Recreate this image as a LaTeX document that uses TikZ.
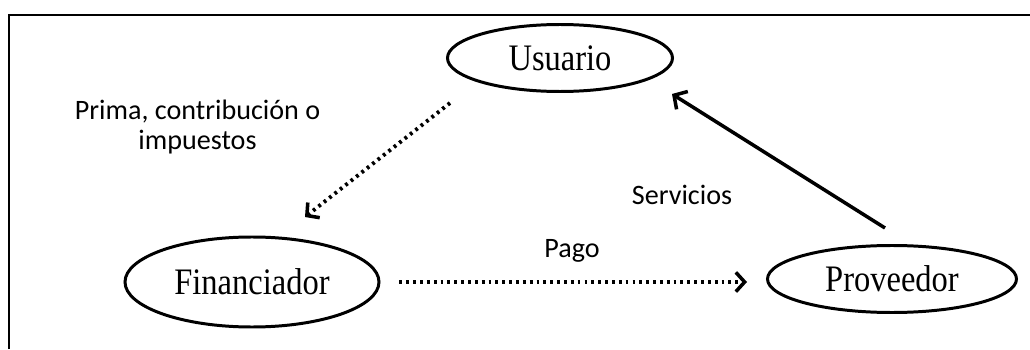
\documentclass[tikz,border=0pt]{standalone}
\usepackage{fontspec}
\setmainfont{Liberation Serif}
\newfontfamily\labelfont{Carlito}
\usetikzlibrary{shapes.geometric,arrows.meta}

\newcommand{\tallname}[1]{\scalebox{1}[1.15]{#1}}

\tikzset{
  actor/.style={draw, ellipse, line width=1.7pt, inner sep=0pt,
    font=\fontsize{18.5}{20}\selectfont},
  flowlabel/.style={font=\labelfont\fontsize{16}{17.5}\selectfont, align=center},
  dotflow/.style={line width=2.2pt, dash pattern=on 1.6pt off 2.3pt,
    -{Straight Barb[length=5pt,width=11pt,line width=2pt]}},
  solidflow/.style={line width=2pt,
    -{Straight Barb[length=5.5pt,width=12pt,line width=2pt]}}
}

\begin{document}
\begin{tikzpicture}
	%%%%% START %%%%%
	\useasboundingbox (0, 0) rectangle (20.6, 6.98);
	
	% frame, open at the bottom and right
	\draw[line width=1.1pt] (0.18, 0) -- (0.18, 6.68) -- (20.6, 6.68);
	
	\node[actor, minimum width=4.5cm, minimum height=1.34cm] (usuario) at (11.2, 5.82) {\tallname{Usuario}};
	\node[actor, minimum width=5.08cm, minimum height=1.8cm] (financiador) at (5.04, 1.34) {\tallname{Financiador}};
	\node[actor, minimum width=4.98cm, minimum height=1.34cm] (proveedor) at (17.84, 1.4) {\tallname{Proveedor}};
	
	\coordinate (prima-a) at (9.0, 4.92);
	\coordinate (prima-b) at (6.1, 2.64);
	\coordinate (serv-a) at (17.7, 2.42);
	\coordinate (serv-b) at (13.44, 5.1);
	
	\draw[dotflow] (prima-a) -- (prima-b);
	\draw[dotflow, shorten <=0.38cm, shorten >=0.38cm] (financiador.east) -- (financiador.east -| proveedor.west);
	\draw[solidflow] (serv-a) -- (serv-b);
	
	\node[flowlabel] (prima) at (3.95, 4.44) {Prima, contribución o\\impuestos};
	\node[flowlabel, anchor=base] (pago) at (11.44, 1.84) {Pago};
	\node[flowlabel, anchor=base] (servicios) at (13.64, 2.88) {Servicios};
	
	%%%%% END %%%%%
\end{tikzpicture}
\end{document}
